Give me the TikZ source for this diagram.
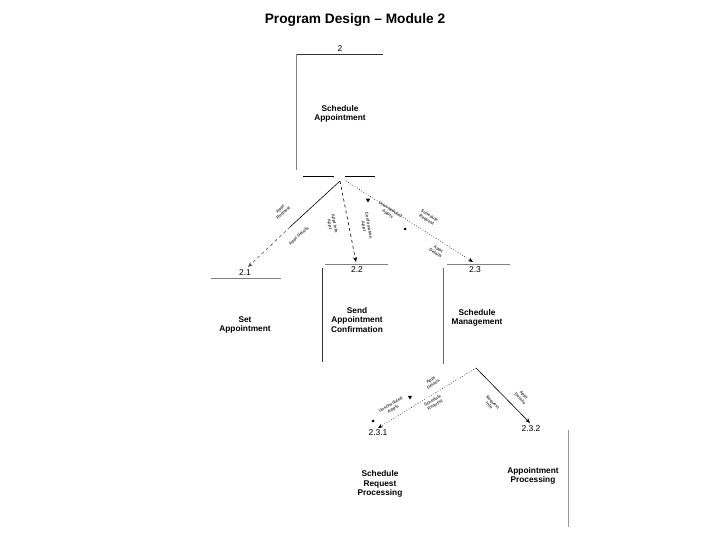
\documentclass[tikz,border=0pt]{standalone}
\usepackage{fontspec}
\setmainfont{Liberation Sans}
\usetikzlibrary{arrows.meta,shapes.geometric}
\begin{document}
\begin{tikzpicture}[x=1pt,y=-1pt,
  boxline/.style={line width=0.6pt,black!80},
  boxtext/.style={font=\bfseries\fontsize{8.3}{9.6}\selectfont,align=center},
  numtext/.style={font=\fontsize{8.5}{9}\selectfont},
  flowlbl/.style={font=\bfseries\fontsize{4.3}{5}\selectfont,align=center,text=black!75,inner sep=0.3pt},
  conn/.style={line width=0.6pt,-{Stealth[length=5pt,width=4pt]}},
  flowmark/.style={fill=black,inner sep=0pt}
]
\useasboundingbox (0,0) rectangle (720,540);
\node[font=\bfseries\fontsize{13.7}{15}\selectfont] (title) at (355,20) {Program Design -- Module 2};

% Box 2
\coordinate (b2tl) at (296,54); \coordinate (b2tr) at (383,54); \coordinate (b2bl) at (296,170);
\draw[boxline] (b2tl) -- (b2tr);
\draw[boxline,black!50] (b2tl) -- (b2bl);
\node[numtext] (n2) at (340,49) {2};
\node[boxtext] (t2) at (340,114) {Schedule\\Appointment};
\coordinate (s1a) at (303,176); \coordinate (s1b) at (334,176);
\coordinate (s2a) at (345,176); \coordinate (s2b) at (375,176);
\draw[line width=0.8pt] (s1a) -- (s1b);
\draw[line width=0.8pt] (s2a) -- (s2b);

% Box 2.1
\coordinate (b21a) at (211,278); \coordinate (b21b) at (281,278);
\draw[boxline,black!50] (b21a) -- (b21b);
\node[numtext] (n21) at (245,273) {2.1};
\node[boxtext] (t21) at (245,325) {Set\\Appointment};

% Box 2.2
\coordinate (b22a) at (325,264); \coordinate (b22b) at (388,264);
\coordinate (b22c) at (322,268); \coordinate (b22d) at (322,362);
\draw[boxline,black!50] (b22a) -- (b22b);
\draw[boxline] (b22c) -- (b22d);
\node[numtext] (n22) at (357,270) {2.2};
\node[boxtext] (t22) at (357,320) {Send\\Appointment\\Confirmation};

% Box 2.3
\coordinate (b23a) at (447,264); \coordinate (b23b) at (510,264);
\coordinate (b23c) at (443,268); \coordinate (b23d) at (443,364);
\draw[boxline,black!50] (b23a) -- (b23b);
\draw[boxline,black!60] (b23c) -- (b23d);
\node[numtext] (n23) at (475,270) {2.3};
\node[boxtext] (t23) at (477,318) {Schedule\\Management};

% Box 2.3.1
\node[numtext] (n231) at (378,433) {2.3.1};
\node[boxtext] (t231) at (380,484) {Schedule\\Request\\Processing};

% Box 2.3.2
\coordinate (b232a) at (568,430); \coordinate (b232b) at (568,527);
\draw[boxline,black!40] (b232a) -- (b232b);
\node[numtext] (n232) at (531,429) {2.3.2};
\node[boxtext] (t232) at (533,476) {Appointment\\Processing};

% Connectors from box 2
\coordinate (apex) at (340,181);
\coordinate (a21) at (248,267);
\coordinate (mid21) at (290,227);
\draw[line width=0.6pt] (apex) -- (mid21);
\draw[conn,dashed,black!70] (mid21) -- (a21);
\coordinate (a22) at (356,262);
\draw[conn,dashed] (apex) -- (a22);
\coordinate (apex2) at (346,181);
\coordinate (a23) at (473,262);
\draw[conn,dotted] (apex2) -- (a23);

\node[flowlbl,rotate=41] (l1) at (282,211) {Appt\\Request};
\node[flowlbl,rotate=41] (l2) at (299,236) {Appt Details};
\node[flowlbl,rotate=-80] (l3) at (332,224) {Appt Info\\Appt};
\node[flowlbl,rotate=-80] (l4) at (366,226) {Confirmation\\Appt};
\node[flowmark,regular polygon,regular polygon sides=3,shape border rotate=180,minimum size=5pt] (m1) at (368,200) {};
\node[flowlbl,rotate=-33] (l5) at (389,212) {Unscheduled\\Appts};
\node[flowmark,circle,minimum size=3pt] (m2) at (405,229) {};
\node[flowlbl,rotate=-33] (l6) at (428,218) {Schedule\\Request};
\node[flowlbl,rotate=-33] (l7) at (437,251) {Appt\\Details};

% Connectors from box 2.3
\coordinate (apex3) at (476,368);
\coordinate (a231) at (378,428);
\coordinate (a232) at (530,423);
\draw[conn,dotted] (apex3) -- (a231);
\draw[conn] (apex3) -- (a232);
\node[flowlbl,rotate=31.5] (l8) at (432,382) {Appt\\Details};
\node[flowlbl,rotate=31.5] (l9) at (392,407) {Unscheduled\\Appts};
\node[flowmark,regular polygon,regular polygon sides=3,shape border rotate=180,minimum size=5pt] (m3) at (410,397) {};
\node[flowmark,circle,minimum size=3pt] (m4) at (373,421) {};
\node[flowlbl,rotate=31.5] (l10) at (434,403) {Schedule\\Request};
\node[flowlbl,rotate=-45.5] (l11) at (491,404) {Request\\Info};
\node[flowlbl,rotate=-45.5] (l12) at (522,397) {Appt\\Details};
\end{tikzpicture}
\end{document}
